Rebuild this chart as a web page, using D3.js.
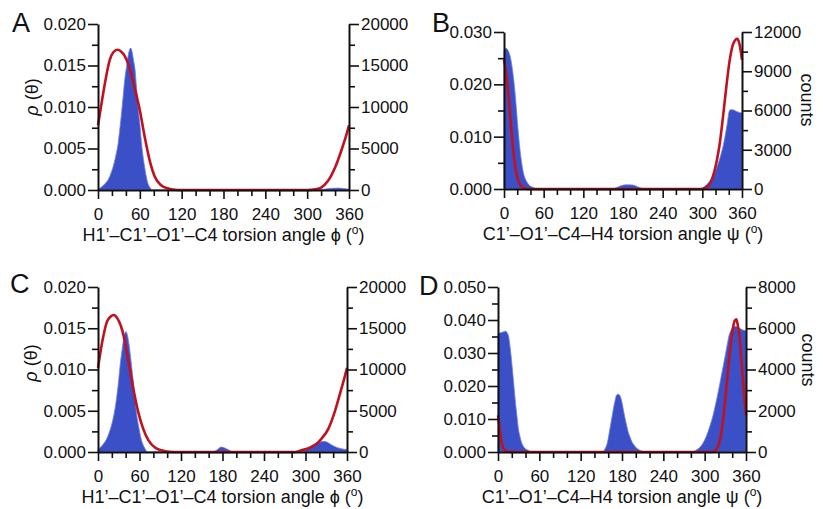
<!DOCTYPE html>
<html>
<head>
<meta charset="utf-8">
<script src="https://cdn.jsdelivr.net/npm/d3@7"></script>
<style>
  html, body { margin: 0; padding: 0; background: #fff; }
  svg { display: block; }
  text { font-family: "Liberation Sans", Arial, Helvetica, sans-serif; fill: #111; }
</style>
</head>
<body>
<svg id="chart" width="823" height="509"></svg>
<script>
// ---- Data: torsion-angle distributions (angle in degrees) ----
// Histogram counts (blue fill, right axis) and fitted density p(θ) (red line, left axis)

const angleTicks = [0, 60, 120, 180, 240, 300, 360];
const angleMinorTicks = [20, 40, 80, 100, 140, 160, 200, 220, 260, 280, 320, 340];

// Panel A: H1'-C1'-O1'-C4 (phi)
const histA = [[0,100],[5,350],[10,750],[15,1300],[19,2100],[23,3200],[26,4300],[29,5700],[31,7100],[34,9500],[36,11200],[38,13000],[41,14900],[44,16500],[47,17100],[49,16600],[51,15600],[53,14600],[55,12600],[57,10400],[60,8000],[62,6000],[65,3800],[67,2700],[70,1300],[72,700],[75,250],[78,0],[315,0],[325,100],[335,200],[345,230],[355,150],[360,100]];
const fitA = [[0,0.0078],[5,0.0104],[10,0.0129],[17,0.0157],[22,0.0166],[28,0.0169],[33,0.0167],[38,0.0162],[45,0.0148],[52,0.0125],[60,0.0096],[67,0.0064],[74,0.0036],[81,0.0017],[90,0.0006],[100,0.0002],[110,0.00003],[120,0],[300,0],[312,0.0001],[320,0.0003],[330,0.0011],[340,0.0027],[350,0.0050],[355,0.0063],[360,0.0078]];

// Panel B: C1'-O1'-C4-H4 (psi)
const histB = [[0,10500],[3,10750],[6,10600],[9,10200],[12,9400],[15,8200],[18,6600],[21,4700],[24,3100],[27,1900],[30,1100],[34,600],[38,300],[44,120],[50,0],[163,0],[170,100],[177,250],[185,320],[195,300],[203,150],[212,0],[295,0],[302,150],[306,300],[311,600],[316,950],[320,1400],[324,1950],[328,2600],[332,3400],[335,4200],[338,5100],[340,5800],[342,6050],[346,6050],[351,5950],[356,5850],[360,5800]];
const fitB = [[0,0.0247],[3,0.0225],[6,0.019],[9,0.0145],[12,0.0100],[15,0.0062],[18,0.0035],[21,0.0018],[25,0.0007],[30,0.0002],[36,0],[300,0],[306,0.0003],[311,0.0009],[318,0.0033],[322,0.0055],[326,0.0084],[331,0.0135],[336,0.0192],[341,0.0243],[346,0.0275],[350,0.0285],[353,0.0287],[356,0.0278],[360,0.0247]];

// Panel C: H1'-C1'-O1'-C4 (phi)
const histC = [[0,300],[4,600],[8,1000],[12,1500],[16,2300],[20,3400],[23,4500],[26,6000],[28,7300],[30,8800],[32,10500],[35,12500],[37,13700],[39,14400],[40.5,14600],[42,14300],[44,13500],[47,11600],[49,10100],[52,7800],[54,6000],[56,4500],[59,3000],[62,1700],[65,900],[68,400],[72,0],[165,0],[172,250],[178,600],[183,500],[190,200],[195,0],[292,0],[300,250],[308,600],[315,900],[320,1150],[326,1300],[331,1200],[336,950],[342,680],[350,430],[356,330],[360,300]];
const fitC = [[0,0.0102],[6,0.0133],[13,0.0158],[18,0.0164],[23,0.0166],[28,0.0162],[33,0.0153],[37,0.0141],[44,0.0110],[51,0.0077],[58,0.0049],[65,0.0029],[73,0.0014],[83,0.0005],[97,0.0001],[110,0],[285,0],[294,0.0002],[308,0.0006],[316,0.0010],[323,0.0016],[333,0.0028],[342,0.0048],[352,0.0077],[356,0.0089],[360,0.0102]];

// Panel D: C1'-O1'-C4-H4 (psi)
const histD = [[0,5750],[5,5790],[9,5840],[11,5860],[13,5800],[15.5,5580],[17.5,5100],[19.5,4500],[21.5,3800],[23.5,3050],[25.5,2350],[27.5,1750],[29.5,1150],[31.5,800],[34,480],[36.5,290],[40,150],[44,80],[48,0],[152,0],[156,200],[158,350],[160,650],[162.5,1130],[165,1600],[167.5,2100],[170,2500],[172,2750],[174,2800],[176,2780],[178,2650],[180,2400],[182,2050],[184.5,1620],[187,1250],[189,970],[192,700],[194,520],[198,320],[201,190],[205,100],[209,40],[214,0],[282,0],[288,100],[293.5,240],[297,400],[301,650],[305,1000],[308,1300],[312,1750],[315.5,2260],[319,2800],[322.5,3400],[326,4000],[330,4700],[333,5250],[335,5600],[337.5,5850],[340,6000],[342,6080],[344.5,6090],[348,6050],[352,5980],[356.6,5900],[360,5880]];
const fitD = [[0,0.0111],[2,0.0081],[4,0.0045],[6,0.0022],[9,0.0008],[13,0.0002],[18,0],[310,0],[315,0.0004],[320,0.0020],[323,0.0045],[326,0.0085],[330,0.0162],[334,0.0250],[338,0.0330],[341,0.0375],[344,0.0399],[346,0.0402],[348,0.0385],[351,0.0340],[354,0.0260],[357,0.0180],[360,0.0111]];

// Axis tick values per panel
const densityTicksAC = [0, 0.005, 0.010, 0.015, 0.020];
const densityMinorAC = [0.0025, 0.0075, 0.0125, 0.0175];
const countTicksAC = [0, 5000, 10000, 15000, 20000];
const countMinorAC = [2500, 7500, 12500, 17500];
const densityTicksB = [0, 0.010, 0.020, 0.030];
const densityMinorB = [0.005, 0.015, 0.025];
const countTicksB = [0, 3000, 6000, 9000, 12000];
const countMinorB = [1500, 4500, 7500, 10500];
const densityTicksD = [0, 0.010, 0.020, 0.030, 0.040, 0.050];
const densityMinorD = [0.005, 0.015, 0.025, 0.035, 0.045];
const countTicksD = [0, 2000, 4000, 6000, 8000];
const countMinorD = [1000, 3000, 5000, 7000];

const titlePhi = ["H1\u2019\u2013C1\u2019\u2013O1\u2019\u2013C4 torsion angle \u03D5 (", ")"];
const titlePsi = ["C1\u2019\u2013O1\u2019\u2013C4\u2013H4 torsion angle \u03C8 (", ")"];

// ---- Layout ----
const panels = [
  { letter: "A", lx: 12, ly: 32, box: [98, 349, 24, 190], dMax: 0.020, cMax: 20000,
    dTicks: densityTicksAC, dMinor: densityMinorAC, cTicks: countTicksAC, cMinor: countMinorAC,
    hist: histA, fit: fitA, title: titlePhi, leftLabel: [32, 97], rightLabel: null },
  { letter: "B", lx: 432, ly: 32, box: [504, 742, 32, 189], dMax: 0.030, cMax: 12000,
    dTicks: densityTicksB, dMinor: densityMinorB, cTicks: countTicksB, cMinor: countMinorB,
    hist: histB, fit: fitB, title: titlePsi, leftLabel: null, rightLabel: [807, 100] },
  { letter: "C", lx: 10, ly: 293, box: [98, 347, 287, 452], dMax: 0.020, cMax: 20000,
    dTicks: densityTicksAC, dMinor: densityMinorAC, cTicks: countTicksAC, cMinor: countMinorAC,
    hist: histC, fit: fitC, title: titlePhi, leftLabel: [31, 363], rightLabel: null },
  { letter: "D", lx: 419, ly: 295, box: [498, 746, 287, 452], dMax: 0.050, cMax: 8000,
    dTicks: densityTicksD, dMinor: densityMinorD, cTicks: countTicksD, cMinor: countMinorD,
    hist: histD, fit: fitD, title: titlePsi, leftLabel: null, rightLabel: [808, 360] }
];

const BLUE = "#3b4fc6";
const RED = "#c0121e";
const svg = d3.select("#chart");

function styleAxis(g, width) {
  g.selectAll(".domain").attr("stroke", "#111").attr("stroke-width", width);
  g.selectAll(".tick line").attr("stroke", "#111").attr("stroke-width", 1.6);
  g.selectAll("text").attr("font-size", 17).attr("fill", "#111")
    .attr("font-family", "'Liberation Sans', Arial, Helvetica, sans-serif");
}

panels.forEach(p => {
  const [x0, x1, y0, y1] = p.box;
  const x = d3.scaleLinear().domain([0, 360]).range([x0, x1]);
  const yD = d3.scaleLinear().domain([0, p.dMax]).range([y1, y0]);
  const yC = d3.scaleLinear().domain([0, p.cMax]).range([y1, y0]);
  const g = svg.append("g");

  // histogram counts
  g.append("path")
    .datum(p.hist)
    .attr("fill", BLUE)
    .attr("stroke", "#6f7fe0")
    .attr("stroke-width", 0.8)
    .attr("d", d3.area()
      .x(d => x(d[0]))
      .y0(yC(0))
      .y1(d => yC(d[1]))
      .curve(d3.curveMonotoneX));

  // fitted density
  g.append("path")
    .datum(p.fit)
    .attr("fill", "none")
    .attr("stroke", RED)
    .attr("stroke-width", 2.6)
    .attr("stroke-linejoin", "round")
    .attr("d", d3.line()
      .x(d => x(d[0]))
      .y(d => yD(d[1]))
      .curve(d3.curveMonotoneX));

  // x axis
  const gxMinor = g.append("g").attr("transform", `translate(0,${y1})`)
    .call(d3.axisBottom(x).tickValues(angleMinorTicks).tickSize(6).tickSizeOuter(0).tickFormat(""));
  gxMinor.select(".domain").remove();
  styleAxis(gxMinor, 2);
  const gx = g.append("g").attr("transform", `translate(0,${y1})`)
    .call(d3.axisBottom(x).tickValues(angleTicks).tickSize(9).tickSizeOuter(0).tickPadding(9).tickFormat(d3.format("d")));
  styleAxis(gx, 2);

  // left axis (density)
  const glMinor = g.append("g").attr("transform", `translate(${x0},0)`)
    .call(d3.axisLeft(yD).tickValues(p.dMinor).tickSize(6).tickFormat(""));
  glMinor.select(".domain").remove();
  styleAxis(glMinor, 2);
  const gl = g.append("g").attr("transform", `translate(${x0},0)`)
    .call(d3.axisLeft(yD).tickValues(p.dTicks).tickSize(10).tickSizeOuter(0).tickPadding(2).tickFormat(d3.format(".3f")));
  styleAxis(gl, 2);

  // right axis (counts)
  const grMinor = g.append("g").attr("transform", `translate(${x1},0)`)
    .call(d3.axisRight(yC).tickValues(p.cMinor).tickSize(6).tickFormat(""));
  grMinor.select(".domain").remove();
  styleAxis(grMinor, 2);
  const gr = g.append("g").attr("transform", `translate(${x1},0)`)
    .call(d3.axisRight(yC).tickValues(p.cTicks).tickSize(10).tickSizeOuter(0).tickPadding(2).tickFormat(d3.format("d")));
  styleAxis(gr, 2);

  // axis title with superscript degree mark
  const t = g.append("text")
    .attr("x", (x0 + x1) / 2)
    .attr("y", y1 + 51)
    .attr("text-anchor", "middle")
    .attr("font-size", 18);
  t.append("tspan").text(p.title[0]);
  t.append("tspan").attr("dy", -7).attr("font-size", 12).text("o");
  t.append("tspan").attr("dy", 7).text(p.title[1]);

  // panel letter
  g.append("text").attr("x", p.lx).attr("y", p.ly).attr("font-size", 27).text(p.letter);

  if (p.leftLabel) {
    const lt = g.append("text")
      .attr("transform", `translate(${p.leftLabel[0]},${p.leftLabel[1]}) rotate(-90)`)
      .attr("text-anchor", "middle")
      .attr("dy", "0.35em")
      .attr("font-size", 18);
    lt.append("tspan").attr("font-style", "italic").text("\u03C1");
    lt.append("tspan").text(" (\u03B8)");
  }
  if (p.rightLabel) {
    g.append("text")
      .attr("transform", `translate(${p.rightLabel[0]},${p.rightLabel[1]}) rotate(90)`)
      .attr("text-anchor", "middle")
      .attr("dy", "0.35em")
      .attr("font-size", 18)
      .text("counts");
  }
});
</script>
</body>
</html>
